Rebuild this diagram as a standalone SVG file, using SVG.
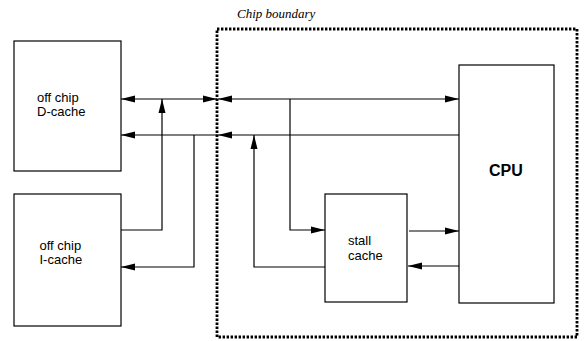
<svg xmlns="http://www.w3.org/2000/svg" width="586" height="341" viewBox="0 0 586 341">
<defs>
<marker id="ah" markerUnits="userSpaceOnUse" markerWidth="15" markerHeight="8" refX="14" refY="3.5" orient="auto-start-reverse" overflow="visible">
<path d="M0,0 L14,3.5 L0,7 z" fill="#000"/>
</marker>
<style>
.box{fill:#fff;stroke:#000;stroke-width:1.2}
.lbl{font-family:"Liberation Sans",Arial,sans-serif;font-size:13px;fill:#000}
.cpu{font-family:"Liberation Sans",Arial,sans-serif;font-size:16px;font-weight:bold;fill:#000}
.cb{font-family:"Liberation Serif","Times New Roman",serif;font-size:13px;font-style:italic;fill:#000}
.c{fill:none;stroke:#000;stroke-width:1.2}
.arr{marker-end:url(#ah)}
.both{marker-start:url(#ah);marker-end:url(#ah)}
</style>
</defs>
<rect width="586" height="341" fill="#fff"/>
<g id="chip-boundary">
<rect x="217" y="29" width="360" height="308" fill="none" stroke="#000" stroke-width="2.8" stroke-dasharray="2.4 1.6"/>
<text class="cb" x="237" y="18">Chip boundary</text>
</g>
<g id="connectors">
<path class="c both" d="M217,99 L121,99"/>
<path class="c both" d="M218,99 L459,99"/>
<path class="c arr" d="M459,135 L218,135"/>
<path class="c arr" d="M218,135 L121,135"/>
<path class="c arr" d="M121,230 L162,230 L162,99"/>
<path class="c arr" d="M194,135 L194,267 L121,267"/>
<path class="c arr" d="M290,99 L290,230 L325,230"/>
<path class="c arr" d="M325,267 L254,267 L254,135"/>
<path class="c arr" d="M409,231 L459,231"/>
<path class="c arr" d="M459,266 L408,266"/>
</g>
<g id="d-cache">
<rect class="box" x="14" y="41" width="107" height="130"/>
<text class="lbl" x="37" y="101.5">off chip</text>
<text class="lbl" x="37" y="116">D-cache</text>
</g>
<g id="i-cache">
<rect class="box" x="14" y="194" width="107" height="132"/>
<text class="lbl" x="39.5" y="249.5">off chip</text>
<text class="lbl" x="39.5" y="264">I-cache</text>
</g>
<g id="stall-cache">
<rect class="box" x="325" y="194" width="82" height="108"/>
<text class="lbl" x="348" y="245">stall</text>
<text class="lbl" x="348" y="259.5">cache</text>
</g>
<g id="cpu">
<rect class="box" x="459" y="65" width="95" height="238"/>
<text class="cpu" x="489" y="176">CPU</text>
</g>
</svg>
